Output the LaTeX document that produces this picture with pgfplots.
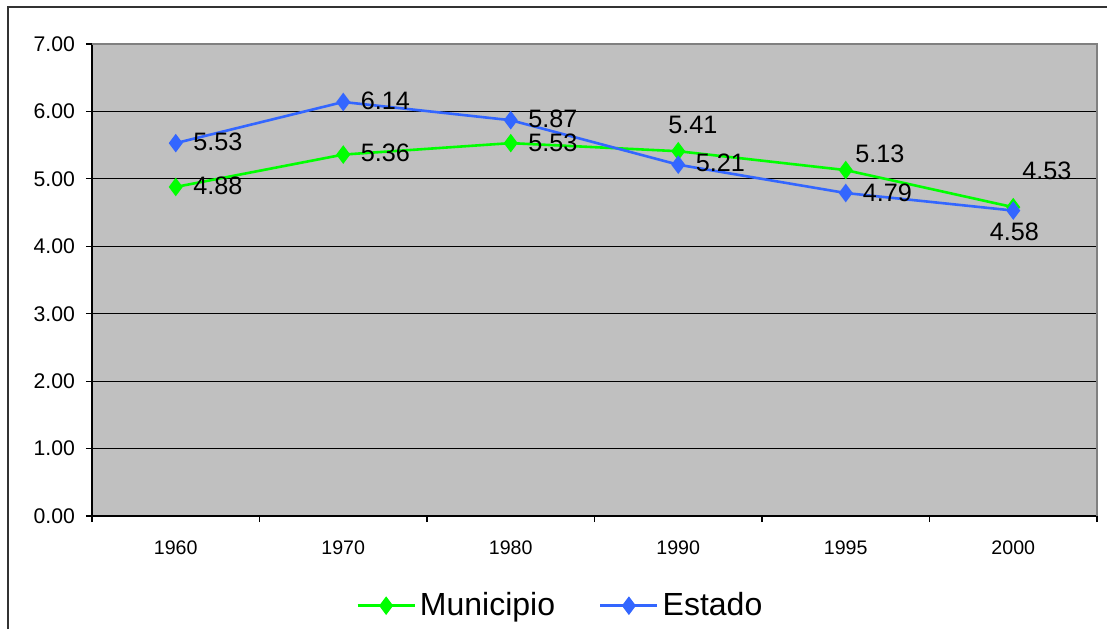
\documentclass[border=0pt]{standalone}
\usepackage{pgfplots}
\pgfplotsset{compat=1.18}
\usepackage{fontspec}
\setmainfont{Liberation Sans}
\definecolor{plotgray}{RGB}{192,192,192}
\definecolor{edgegray}{RGB}{128,128,128}
\definecolor{muni}{RGB}{0,255,0}
\definecolor{estado}{RGB}{51,102,255}
\begin{document}
\begin{tikzpicture}
\begin{axis}[
  at={(0,0)}, anchor=south west,
  scale only axis,
  width=502.5pt, height=236pt,
  xmin=-0.5, xmax=5.5,
  ymin=0, ymax=7,
  clip=false,
  axis background/.style={fill=plotgray},
  axis line style={draw=none},
  tick pos=left, tick align=outside,
  xtick={0,...,5},
  xticklabels={1960,1970,1980,1990,1995,2000},
  major x tick style={draw=none},
  minor xtick={-0.5,0.5,...,5.5},
  minor tick length=3pt,
  minor x tick style={black, line width=0.6pt},
  xticklabel style={font=\fontsize{9.8}{12}\selectfont, yshift=-6pt},
  ytick={0,...,7},
  major tick length=3pt,
  major y tick style={black, line width=0.6pt},
  ymajorgrids,
  grid style={black, line width=0.5pt},
  yticklabel style={font=\fontsize{10.6}{13}\selectfont, xshift=-2pt,
    /pgf/number format/.cd, fixed, fixed zerofill, precision=2, assume math mode=true},
  legend columns=2,
  legend style={at={(0.467,-0.19)}, anchor=center, draw=none, fill=none,
    font=\fontsize{16}{19}\selectfont,
    /tikz/every even column/.append style={column sep=20pt}},
  legend image code/.code={\draw[mark repeat=2,mark phase=2,#1] plot coordinates {(0pt,0pt) (14.25pt,0pt) (28.5pt,0pt)};},
]
\addplot[muni, line width=1.3pt, mark=diamond*, mark size=3.6pt, mark options={fill=muni}]
coordinates {(0,4.88) (1,5.36) (2,5.53) (3,5.41) (4,5.13) (5,4.58)};
\addlegendentry{Municipio}
\addplot[estado, line width=1.3pt, mark=diamond*, mark size=3.6pt, mark options={fill=estado}]
coordinates {(0,5.53) (1,6.14) (2,5.87) (3,5.21) (4,4.79) (5,4.53)};
\addlegendentry{Estado}

\draw[black, line width=0.7pt] (rel axis cs:0,1) -- (rel axis cs:0,0) -- (rel axis cs:1,0);
\draw[edgegray, line width=1.3pt] (rel axis cs:0,1) -- (rel axis cs:1,1) -- (rel axis cs:1,0);

\begin{scope}[every node/.style={font=\fontsize{12.6}{15}\selectfont, inner sep=0pt}]
\node at (axis cs:0.252,5.547) {5.53};
\node at (axis cs:0.252,4.894) {4.88};
\node at (axis cs:1.252,6.155) {6.14};
\node at (axis cs:1.252,5.383) {5.36};
\node at (axis cs:2.252,5.895) {5.87};
\node at (axis cs:2.252,5.535) {5.53};
\node at (axis cs:3.088,5.798) {5.41};
\node at (axis cs:3.252,5.235) {5.21};
\node at (axis cs:4.204,5.369) {5.13};
\node at (axis cs:4.249,4.798) {4.79};
\node at (axis cs:5.201,5.116) {4.53};
\node at (axis cs:5.007,4.212) {4.58};
\end{scope}
\end{axis}
\draw[black!80, line width=1pt] (-42pt,-56.5pt) -- (-42pt,254.5pt) -- (507.5pt,254.5pt);
\pgfresetboundingbox
\useasboundingbox (-46pt,-56.5pt) rectangle (507.5pt,258pt);
\end{tikzpicture}
\end{document}
